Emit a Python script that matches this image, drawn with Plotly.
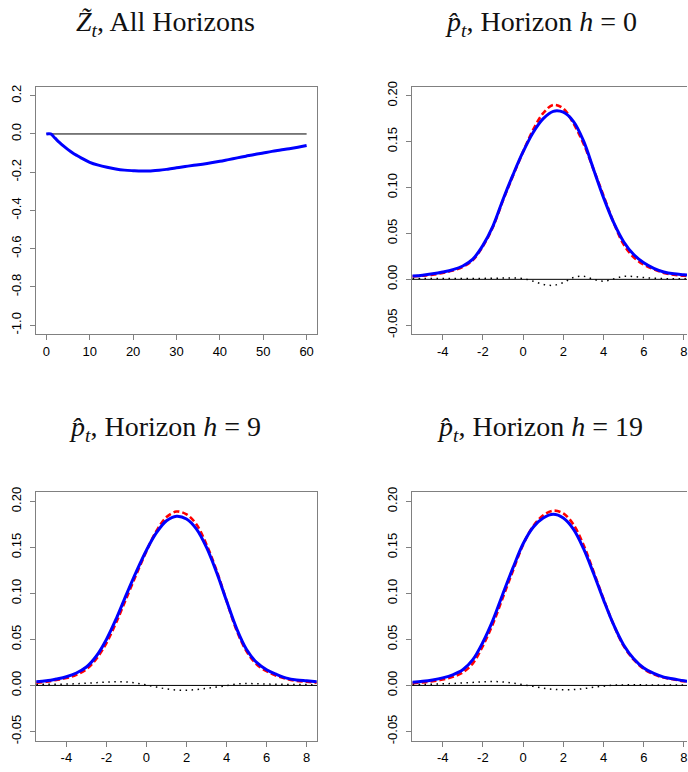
import plotly.graph_objects as go

W, H = 688, 772

# ---------------- Data ----------------
# Panel 1: Z-tilde over horizons
T_HORIZON = [0, 1, 2, 3, 4, 5, 6, 7, 8, 10, 12, 14, 16, 18, 20, 22, 24, 26, 28, 30,
             32, 34, 36, 38, 40, 42, 44, 46, 48, 50, 52, 54, 56, 58, 60]
Z_TILDE = [0.000, 0.000, -0.022, -0.044, -0.064, -0.082, -0.098, -0.112, -0.125,
           -0.148, -0.163, -0.174, -0.183, -0.189, -0.192, -0.194, -0.193, -0.190,
           -0.184, -0.177, -0.170, -0.164, -0.158, -0.151, -0.143, -0.134, -0.125,
           -0.116, -0.107, -0.099, -0.091, -0.084, -0.077, -0.069, -0.060]
Z_REF_T = [0, 60]
Z_REF_V = [0.0, 0.0]

# Density panels
X_GRID = [-5.5, -5.0, -4.5, -4.0, -3.5, -3.0, -2.5, -2.0, -1.5, -1.0, -0.5, 0.0,
          0.5, 1.0, 1.5, 2.0, 2.5, 3.0, 3.5, 4.0, 4.5, 5.0, 5.5, 6.0, 6.5, 7.0,
          7.5, 8.0, 8.5]

# Horizon h = 0
P_HAT_H0 = [0.0035, 0.0045, 0.006, 0.0080, 0.0105, 0.0145, 0.022, 0.037, 0.058, 0.087,
            0.114, 0.139, 0.160, 0.175, 0.183, 0.182, 0.172, 0.151, 0.120, 0.089,
            0.062, 0.041, 0.027, 0.018, 0.012, 0.008, 0.006, 0.005, 0.004]
P_TRUE_H0 = [0.003, 0.004, 0.005, 0.007, 0.0095, 0.0135, 0.021, 0.036, 0.057, 0.086,
             0.113, 0.139, 0.163, 0.181, 0.190, 0.186, 0.170, 0.148, 0.120, 0.091,
             0.062, 0.038, 0.024, 0.016, 0.011, 0.007, 0.005, 0.004, 0.003]
DIFF_H0 = [0.0008, 0.0008, 0.0008, 0.0008, 0.0008, 0.0008, 0.0009, 0.0010, 0.0012,
           0.0014, 0.0015, 0.0008, -0.0020, -0.0055, -0.0065, -0.0035, 0.0020,
           0.0033, 0.0000, -0.0020, 0.0005, 0.0033, 0.0030, 0.0020, 0.0012, 0.0008,
           0.0007, 0.0007, 0.0006]

# Horizon h = 9
P_HAT_H9 = [0.004, 0.005, 0.007, 0.0095, 0.0135, 0.020, 0.032, 0.050, 0.073, 0.099,
            0.124, 0.147, 0.166, 0.179, 0.184, 0.181, 0.170, 0.150, 0.123, 0.092,
            0.062, 0.039, 0.025, 0.017, 0.012, 0.008, 0.006, 0.005, 0.004]
P_TRUE_H9 = [0.003, 0.004, 0.006, 0.008, 0.0115, 0.0175, 0.029, 0.046, 0.069, 0.095,
             0.121, 0.146, 0.168, 0.183, 0.189, 0.186, 0.175, 0.153, 0.125, 0.092,
             0.060, 0.037, 0.023, 0.0155, 0.0105, 0.0072, 0.005, 0.004, 0.003]
DIFF_H9 = [0.0010, 0.0012, 0.0013, 0.0015, 0.0018, 0.0024, 0.0030, 0.0036, 0.0040,
           0.0038, 0.0025, 0.0005, -0.0018, -0.0038, -0.0050, -0.0052, -0.0045,
           -0.0032, -0.0018, -0.0003, 0.0015, 0.0020, 0.0018, 0.0015, 0.0013,
           0.0011, 0.0010, 0.0009, 0.0008]

# Horizon h = 19
P_HAT_H19 = [0.0035, 0.0045, 0.006, 0.0082, 0.0115, 0.017, 0.028, 0.047, 0.071, 0.100,
             0.128, 0.154, 0.172, 0.182, 0.186, 0.182, 0.170, 0.149, 0.122, 0.093,
             0.066, 0.044, 0.029, 0.019, 0.013, 0.009, 0.007, 0.005, 0.004]
P_TRUE_H19 = [0.0025, 0.0033, 0.0046, 0.0065, 0.0094, 0.014, 0.024, 0.043, 0.067,
              0.096, 0.125, 0.153, 0.173, 0.185, 0.190, 0.187, 0.175, 0.153, 0.124,
              0.094, 0.066, 0.043, 0.028, 0.018, 0.012, 0.0085, 0.0065, 0.0045, 0.0035]
DIFF_H19 = [0.0010, 0.0012, 0.0014, 0.0017, 0.0021, 0.0027, 0.0033, 0.0040, 0.0042,
            0.0038, 0.0025, 0.0008, -0.0010, -0.0030, -0.0043, -0.0047, -0.0045,
            -0.0035, -0.0020, -0.0008, 0.0003, 0.0006, 0.0006, 0.0006, 0.0005,
            0.0005, 0.0005, 0.0005, 0.0005]

# Tick labels
Z_XTICKS = [0, 10, 20, 30, 40, 50, 60]
Z_YTICKS = [0.2, 0.0, -0.2, -0.4, -0.6, -0.8, -1.0]
Z_YTICKTEXT = ["0.2", "0.0", "-0.2", "-0.4", "-0.6", "-0.8", "-1.0"]
D_XTICKS = [-4, -2, 0, 2, 4, 6, 8]
D_XTICKTEXT = ["-4", "-2", "0", "2", "4", "6", "8"]
D_YTICKS = [0.20, 0.15, 0.10, 0.05, 0.00, -0.05]
D_YTICKTEXT = ["0.20", "0.15", "0.10", "0.05", "0.00", "-0.05"]

TITLES = [
    "<i>Z\u0303</i><sub><i>t</i></sub>, All Horizons",
    "<i>p\u0302</i><sub><i>t</i></sub>, Horizon <i>h</i> = 0",
    "<i>p\u0302</i><sub><i>t</i></sub>, Horizon <i>h</i> = 9",
    "<i>p\u0302</i><sub><i>t</i></sub>, Horizon <i>h</i> = 19",
]

# ---------------- Styles / layout helpers ----------------
BLUE = "#0000FF"
RED = "#FF0000"
BOX = "#808080"
TICKFONT = dict(family="Liberation Sans, Arial, sans-serif", size=13, color="#000000")
TITLEFONT = dict(family="Liberation Serif, Times New Roman, serif", size=28, color="#111111")


def fx(p):
    return p / W


def fy(p):
    return 1 - p / H


LEFT_DOM = [fx(36), fx(317.5)]
RIGHT_DOM = [fx(412.7), 1.0]
TOP_DOM = [fy(333.3), fy(82.5)]
BOT_DOM = [fy(744.3), fy(493)]

fig = go.Figure()

# Panel 1
fig.add_trace(go.Scatter(x=Z_REF_T, y=Z_REF_V, mode="lines",
                         line=dict(color="black", width=1), xaxis="x", yaxis="y"))
fig.add_trace(go.Scatter(x=T_HORIZON, y=Z_TILDE, mode="lines", line_shape="spline",
                         line=dict(color=BLUE, width=3), xaxis="x", yaxis="y"))

panels = [
    ("x2", "y2", P_HAT_H0, P_TRUE_H0, DIFF_H0),
    ("x3", "y3", P_HAT_H9, P_TRUE_H9, DIFF_H9),
    ("x4", "y4", P_HAT_H19, P_TRUE_H19, DIFF_H19),
]
for xa, ya, phat, ptrue, diff in panels:
    fig.add_trace(go.Scatter(x=X_GRID, y=diff, mode="lines", line_shape="spline",
                             line=dict(color="black", width=1.5, dash="1.5px,4.5px"),
                             xaxis=xa, yaxis=ya))
    fig.add_trace(go.Scatter(x=X_GRID, y=ptrue, mode="lines", line_shape="spline",
                             line=dict(color=RED, width=2.6, dash="6px,3px"),
                             xaxis=xa, yaxis=ya))
    fig.add_trace(go.Scatter(x=X_GRID, y=phat, mode="lines", line_shape="spline",
                             line=dict(color=BLUE, width=3), xaxis=xa, yaxis=ya))
    fig.add_shape(type="line", xref=xa + " domain", yref=ya, x0=0, x1=1, y0=0, y1=0,
                  line=dict(color="black", width=1), layer="below")


def xaxis_cfg(domain, rng, tickvals, ticktext, anchor, mirror=True):
    return dict(domain=domain, range=rng, tickmode="array", tickvals=tickvals,
                ticktext=ticktext, ticks="outside", ticklen=5, tickwidth=1,
                tickcolor=BOX, showline=True, linecolor=BOX, linewidth=1,
                mirror=mirror, showgrid=False, zeroline=False, anchor=anchor,
                tickfont=TICKFONT, ticklabelstandoff=0, ticklabeloverflow="allow",
                fixedrange=True)


def yaxis_cfg(domain, rng, tickvals, ticktext, anchor, mirror=True):
    return dict(domain=domain, range=rng, tickmode="array", tickvals=tickvals,
                ticktext=ticktext, ticks="outside", ticklen=5, tickwidth=1,
                tickcolor=BOX, showline=True, linecolor=BOX, linewidth=1,
                mirror=mirror, showgrid=False, zeroline=False, anchor=anchor,
                tickangle=-90, tickfont=TICKFONT, ticklabelstandoff=4, fixedrange=True)


D_YRANGE = [-0.06, 0.21]
fig.update_layout(
    width=W, height=H, margin=dict(l=0, r=0, t=0, b=0),
    paper_bgcolor="white", plot_bgcolor="white", showlegend=False,
    xaxis=xaxis_cfg(LEFT_DOM, [-2.4, 62.4], Z_XTICKS, [str(v) for v in Z_XTICKS], "y"),
    yaxis=yaxis_cfg(TOP_DOM, [-1.048, 0.248], Z_YTICKS, Z_YTICKTEXT, "x"),
    xaxis2=xaxis_cfg(RIGHT_DOM, [-5.52, 8.15], D_XTICKS, D_XTICKTEXT, "y2"),
    yaxis2=yaxis_cfg(TOP_DOM, D_YRANGE, D_YTICKS, D_YTICKTEXT, "x2", mirror=False),
    xaxis3=xaxis_cfg(LEFT_DOM, [-5.52, 8.52], D_XTICKS, D_XTICKTEXT, "y3"),
    yaxis3=yaxis_cfg(BOT_DOM, D_YRANGE, D_YTICKS, D_YTICKTEXT, "x3"),
    xaxis4=xaxis_cfg(RIGHT_DOM, [-5.52, 8.15], D_XTICKS, D_XTICKTEXT, "y4"),
    yaxis4=yaxis_cfg(BOT_DOM, D_YRANGE, D_YTICKS, D_YTICKTEXT, "x4", mirror=False),
)

TITLE_POS = [(166, 19), (542, 19), (165, 429), (541, 429)]
for text, (px, py) in zip(TITLES, TITLE_POS):
    fig.add_annotation(text=text, x=fx(px), y=fy(py), xref="paper", yref="paper",
                       xanchor="center", yanchor="middle", showarrow=False,
                       font=TITLEFONT)

fig.write_html("out.html")
